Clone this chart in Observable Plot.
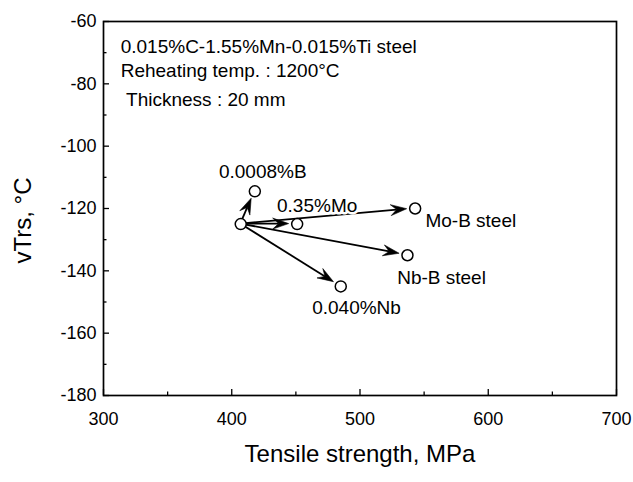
<!DOCTYPE html>
<html><head><meta charset="utf-8">
<script src="https://cdn.jsdelivr.net/npm/d3@7"></script>
<script src="https://cdn.jsdelivr.net/npm/@observablehq/plot@0.6"></script>
<style>body{margin:0;background:#fff}</style>
</head><body><div id="chart"></div>
<script>
// Data
const steels = ["Base", "0.0008%B", "0.35%Mo", "Mo-B steel", "Nb-B steel", "0.040%Nb"];
const strength = [407, 418, 451, 543, 537, 485];      // MPa
const vTrs = [-125, -114.5, -125, -120, -135, -145];   // °C
const arrowTargets = [1, 2, 3, 4, 5];                  // arrows from Base to these steels
const labelText = ["0.0008%B", "0.35%Mo", "Mo-B steel", "Nb-B steel", "0.040%Nb"];
const labelX = [390, 435.3, 551, 529, 462.7];
const labelY = [-108.1, -119.2, -124.0, -142.2, -152.0];
const noteLines = ["0.015%C-1.55%Mn-0.015%Ti steel", "Reheating temp. : 1200°C", "Thickness : 20 mm"];
const noteX = [313.4, 313.4, 317.6];
const noteY = [-68.2, -75.9, -85.3];
const xTicks = [300, 400, 500, 600, 700];
const yTicks = [-180, -160, -140, -120, -100, -80, -60];
const xMinor = [350, 450, 550, 650];
const yMinor = [-170, -150, -130, -110, -90, -70];
const xTitle = "Tensile strength, MPa";
const yTitle = "vTrs, °C";

const points = steels.map((s, i) => ({steel: s, x: strength[i], y: vTrs[i]}));
const arrows = arrowTargets.map(j => ({x1: strength[0], y1: vTrs[0], x2: strength[j], y2: vTrs[j]}));
const labels = labelText.map((t, i) => ({t, x: labelX[i], y: labelY[i]}));
const notes = noteLines.map((t, i) => ({t, x: noteX[i], y: noteY[i]}));

function arrowRender(index, scales, values) {
  const g = d3.create("svg:g");
  for (const i of index) {
    const x1 = values.x1[i], y1 = values.y1[i], x2 = values.x2[i], y2 = values.y2[i];
    const dx = x2 - x1, dy = y2 - y1, L = Math.hypot(dx, dy);
    const ux = dx / L, uy = dy / L, px = -uy, py = ux;
    const tx = x2 - ux * 8, ty = y2 - uy * 8;
    const hl = 16, hw = 5.5, notch = 10;
    const bx = tx - ux * hl, by = ty - uy * hl;
    const nx = tx - ux * notch, ny = ty - uy * notch;
    g.append("line").attr("x1", x1).attr("y1", y1).attr("x2", nx).attr("y2", ny)
      .attr("stroke", "black").attr("stroke-width", 1.8);
    g.append("path")
      .attr("d", `M${tx},${ty}L${bx + px * hw},${by + py * hw}L${nx},${ny}L${bx - px * hw},${by - py * hw}Z`)
      .attr("fill", "black").attr("stroke", "black").attr("stroke-width", 0.6).attr("stroke-linejoin", "miter");
  }
  return g.node();
}

const font = "'Liberation Sans', Arial, Helvetica, sans-serif";
const W = 633, H = 482, ML = 103, MR = 17, MT = 21, MB = 87;
const fw = W - ML - MR, fh = H - MT - MB;

const chart = Plot.plot({
  width: W,
  height: H,
  marginLeft: ML,
  marginRight: MR,
  marginTop: MT,
  marginBottom: MB,
  style: {fontFamily: font, fontSize: "18px", background: "white", color: "black"},
  x: {domain: [300, 700]},
  y: {domain: [-180, -60]},
  marks: [
    // inward ticks along the bottom and left edges
    Plot.tickX(xTicks, {x: d => d, insetTop: fh - 6, stroke: "black", strokeWidth: 1.3}),
    Plot.tickX(xMinor, {x: d => d, insetTop: fh - 3.5, stroke: "black", strokeWidth: 1.3}),
    Plot.tickY(yTicks, {y: d => d, insetRight: fw - 6, stroke: "black", strokeWidth: 1.3}),
    Plot.tickY(yMinor, {y: d => d, insetRight: fw - 3.5, stroke: "black", strokeWidth: 1.3}),
    Plot.axisX(xTicks, {tickSize: 0, tickPadding: 17, tickFormat: d => String(d), label: null}),
    Plot.axisY(yTicks, {tickSize: 0, tickPadding: 7, tickFormat: d => String(d), label: null}),
    Plot.frame({stroke: "black", strokeWidth: 1.7}),
    Plot.link(arrows, {x1: "x1", y1: "y1", x2: "x2", y2: "y2", stroke: "black", render: arrowRender}),
    Plot.dot(points, {x: "x", y: "y", r: 5.5, fill: "white", stroke: "black", strokeWidth: 1.5}),
    Plot.text(labels, {x: "x", y: "y", text: "t", textAnchor: "start", fontSize: 19, fill: "black",
      stroke: "white", strokeWidth: 5, paintOrder: "stroke"}),
    Plot.text(notes, {x: "x", y: "y", text: "t", textAnchor: "start", fontSize: 19, fill: "black"}),
    Plot.text([xTitle], {text: d => d, frameAnchor: "bottom", dy: 66, fontSize: 24, fill: "black"}),
    Plot.text([yTitle], {text: d => d, frameAnchor: "left", textAnchor: "middle", dx: -80, dy: 12,
      rotate: -90, fontSize: 24, fill: "black"})
  ]
});
document.getElementById("chart").append(chart);
</script>
</body></html>
